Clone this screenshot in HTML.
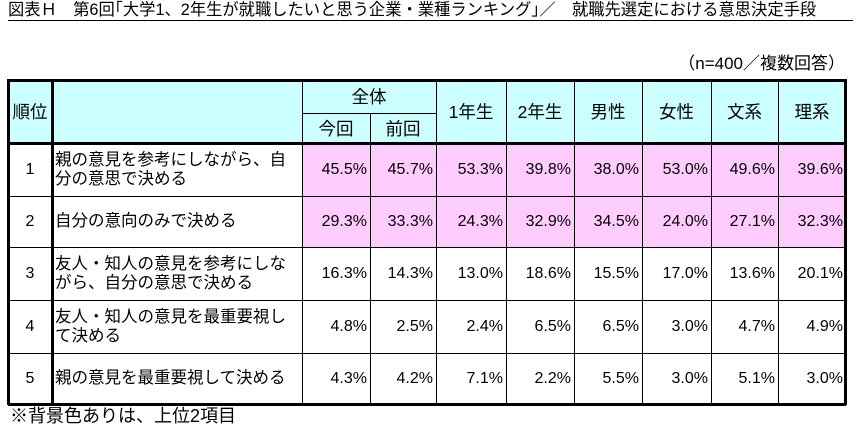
<!DOCTYPE html>
<html><head><meta charset="utf-8"><style>
body{margin:0;width:857px;height:435px;background:#fff;font-family:"Liberation Sans","Noto Sans CJK JP",sans-serif;color:#000;position:relative;overflow:hidden}
.a{position:absolute;box-sizing:border-box}
.c{position:absolute;box-sizing:border-box;display:flex;align-items:center;font-size:16.5px}
.v{justify-content:flex-end;padding-right:3px;font-size:16px}
.h{justify-content:center;font-size:17.5px}
.ln{position:absolute;background:#000}
</style></head><body>
<div class="a" style="left:8px;top:0px;font-size:16.3px;white-space:nowrap;border-bottom:1px solid #000;line-height:20px;width:845px">図表Ｈ　第6回｢大学1、2年生が就職したいと思う企業・業種ランキング｣／　就職先選定における意思決定手段</div>
<div class="a" style="right:12px;top:49px;font-size:17px;white-space:nowrap">（n=400／複数回答）</div>
<div id="tbl"></div>
<div class="a" style="left:10px;top:402px;font-size:18px;white-space:nowrap">※背景色ありは、上位2項目</div>
<script>
const ranks=["1","2","3","4","5"];
const items=["親の意見を参考にしながら、自<br>分の意思で決める","自分の意向のみで決める","友人・知人の意見を参考にしな<br>がら、自分の意思で決める","友人・知人の意見を最重要視し<br>て決める","親の意見を最重要視して決める"];
const colLabels=["今回","前回","1年生","2年生","男性","女性","文系","理系"];
const konkai=[45.5,29.3,16.3,4.8,4.3];
const zenkai=[45.7,33.3,14.3,2.5,4.2];
const nen1=[53.3,24.3,13.0,2.4,7.1];
const nen2=[39.8,32.9,18.6,6.5,2.2];
const male=[38.0,34.5,15.5,6.5,5.5];
const female=[53.0,24.0,17.0,3.0,3.0];
const bunkei=[49.6,27.1,13.6,4.7,5.1];
const rikei=[39.6,32.3,20.1,4.9,3.0];
const series=[konkai,zenkai,nen1,nen2,male,female,bunkei,rikei];
const xs=[8,52,302,370,436,506,574,642,711,778,846];
const ys=[143,196,247,300,353,404];
const top0=80,mid=113;
const t=document.getElementById('tbl');
function cell(x,y,w,h,cls,html,bg,name){const d=document.createElement('div');d.className='c '+cls;d.style.left=x+'px';d.style.top=y+'px';d.style.width=w+'px';d.style.height=h+'px';if(bg)d.style.background=bg;d.innerHTML=html;


t.appendChild(d);}
const cyan='#ccffff',pink='#ffccff';
cell(xs[0],top0,xs[1]-xs[0],ys[0]-top0,'h','順位',cyan,'header-rank');
cell(xs[1],top0,xs[2]-xs[1],ys[0]-top0,'h','',cyan,'header-item');
cell(xs[2],top0,xs[4]-xs[2],mid-top0,'h','全体',cyan,'header-overall');
for(let i=0;i<8;i++){const x=xs[i+2],w=xs[i+3]-x;if(i<2)cell(x,mid,w,ys[0]-mid,'h',colLabels[i],cyan,'header-'+colLabels[i]);else cell(x,top0,w,ys[0]-top0,'h',colLabels[i],cyan,'header-'+colLabels[i]);}
for(let r=0;r<ranks.length;r++){const y=ys[r],h=ys[r+1]-y;const bg=r<2?pink:null;
cell(xs[0],y,xs[1]-xs[0],h,'h',ranks[r],null,'rank-'+ranks[r]);
t.lastChild.style.fontSize='16px';
cell(xs[1],y,xs[2]-xs[1],h,'',items[r],null,'item-'+ranks[r]);
t.lastChild.style.paddingLeft='3px';t.lastChild.style.lineHeight='19px';t.lastChild.style.whiteSpace='nowrap';
for(let i=0;i<8;i++){cell(xs[i+2],y,xs[i+3]-xs[i+2],h,'v',series[i][r].toFixed(1)+'%',bg,'value-r'+ranks[r]+'-c'+(i+1));}}
function L(x,y,w,h){const d=document.createElement('div');d.className='ln';d.style.left=x+'px';d.style.top=y+'px';d.style.width=w+'px';d.style.height=h+'px';


t.appendChild(d);}
L(xs[0],top0-1,xs[10]-xs[0],3);
L(xs[2],mid,xs[4]-xs[2],1);
L(xs[0],ys[0]-1,xs[10]-xs[0],3);
for(let r=1;r<5;r++)L(xs[0],ys[r],xs[10]-xs[0],1);
L(xs[0],ys[5]-1,xs[10]-xs[0],3);
L(xs[0]-1,top0-1,3,ys[5]-top0+2);
L(xs[1]-1,top0-1,3,ys[5]-top0+2);
for(let i=2;i<10;i++){if(i==3)L(xs[i],mid,1,ys[5]-mid);else L(xs[i],top0,1,ys[5]-top0);}
L(xs[10]-2,top0-1,3,ys[5]-top0+2);
</script>
</body></html>
